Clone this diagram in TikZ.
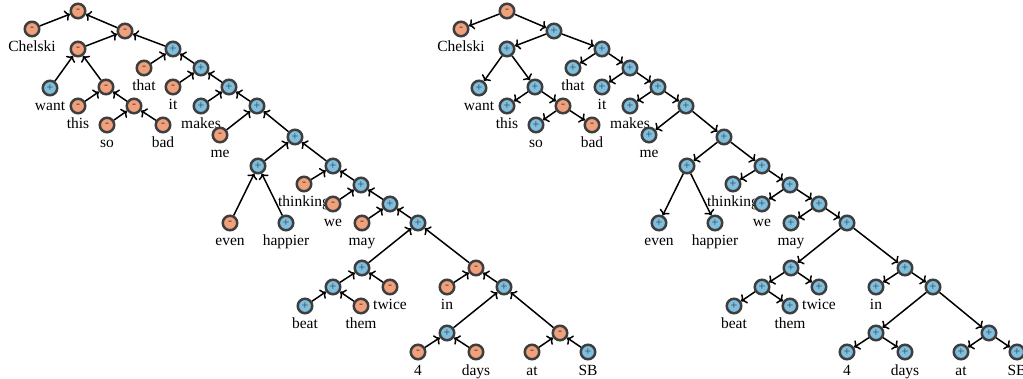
\documentclass[tikz,border=0pt]{standalone}
\usepackage{fontspec}
\setmainfont{Liberation Serif}
\usetikzlibrary{arrows.meta}
\pgfdeclarelayer{background}
\pgfsetlayers{background,main}
\definecolor{orangec}{RGB}{240,160,122}
\definecolor{bluec}{RGB}{126,190,222}
\definecolor{rimc}{RGB}{62,62,62}
\begin{document}
\begin{tikzpicture}[x=1pt,y=-1pt,
  nd/.style={circle, draw=rimc, line width=2.5pt, minimum size=14.5pt, inner sep=0pt, text=rimc, font=\fontsize{12}{12}\selectfont},
  plusnode/.style={nd, fill=bluec},
  minusnode/.style={nd, fill=orangec},
  lbl/.style={anchor=base, inner sep=0pt, font=\fontsize{15.5}{18}\selectfont},
  edgeL/.style={line width=1.5pt, -{To[length=5pt,width=11pt]}},
  edgeR/.style={line width=1.5pt, -{To[length=5pt,width=11pt]}}]
\useasboundingbox (0,0) rectangle (1023,379);

% ---------------- left tree ----------------
\node[minusnode] (Lroot) at (78,11) {-};
\node[minusnode] (Lchelski) at (32,29) {-};
\node[minusnode] (L1) at (125,31) {-};
\node[minusnode] (L2) at (78,49) {-};
\node[plusnode] (L5) at (173,49) {+};
\node[plusnode] (Lwant) at (50,88) {+};
\node[minusnode] (L3) at (106,87) {-};
\node[minusnode] (Lthat) at (144,68) {-};
\node[plusnode] (L6) at (201,68) {+};
\node[minusnode] (Lthis) at (78,106) {-};
\node[minusnode] (L4) at (134,106) {-};
\node[minusnode] (Lit) at (173,87) {-};
\node[plusnode] (L7) at (229,87) {+};
\node[minusnode] (Lso) at (107,125) {-};
\node[minusnode] (Lbad) at (163,125) {-};
\node[plusnode] (Lmakes) at (201,106) {+};
\node[plusnode] (L8) at (257,106) {+};
\node[minusnode] (Lme) at (220,135) {-};
\node[plusnode] (L9) at (295,137) {+};
\node[plusnode] (L10) at (258,166) {+};
\node[plusnode] (L11) at (333,166) {+};
\node[minusnode] (Leven) at (230,223) {-};
\node[plusnode] (Lhappier) at (286,223) {+};
\node[minusnode] (Lthinking) at (304,184) {-};
\node[plusnode] (L12) at (361,185) {+};
\node[minusnode] (Lwe) at (333,204) {-};
\node[plusnode] (L13) at (390,204) {+};
\node[minusnode] (Lmay) at (362,223) {-};
\node[plusnode] (L14) at (418,223) {+};
\node[plusnode] (L15) at (362,268) {+};
\node[minusnode] (L17) at (476,268) {-};
\node[plusnode] (L16) at (333,287) {+};
\node[minusnode] (Ltwice) at (390,287) {-};
\node[minusnode] (Lin) at (447,287) {-};
\node[plusnode] (L18) at (504,287) {+};
\node[plusnode] (Lbeat) at (305,306) {+};
\node[minusnode] (Lthem) at (361,306) {-};
\node[plusnode] (L19) at (447,333) {+};
\node[minusnode] (L20) at (560,333) {-};
\node[minusnode] (Lfour) at (418,352) {-};
\node[minusnode] (Ldays) at (476,352) {-};
\node[minusnode] (Lat) at (532,352) {-};
\node[plusnode] (Lsb) at (588,352) {+};

% ---------------- right tree ----------------
\node[minusnode] (Rroot) at (507,11) {-};
\node[minusnode] (Rchelski) at (461,29) {-};
\node[plusnode] (R1) at (554,31) {+};
\node[plusnode] (R2) at (507,49) {+};
\node[plusnode] (R5) at (602,49) {+};
\node[plusnode] (Rwant) at (479,88) {+};
\node[plusnode] (R3) at (535,87) {+};
\node[plusnode] (Rthat) at (573,68) {+};
\node[plusnode] (R6) at (630,68) {+};
\node[plusnode] (Rthis) at (507,106) {+};
\node[minusnode] (R4) at (563,106) {-};
\node[plusnode] (Rit) at (602,87) {+};
\node[plusnode] (R7) at (658,87) {+};
\node[plusnode] (Rso) at (536,125) {+};
\node[minusnode] (Rbad) at (592,125) {-};
\node[plusnode] (Rmakes) at (630,106) {+};
\node[plusnode] (R8) at (686,106) {+};
\node[plusnode] (Rme) at (649,135) {+};
\node[plusnode] (R9) at (724,137) {+};
\node[plusnode] (R10) at (687,166) {+};
\node[plusnode] (R11) at (762,166) {+};
\node[plusnode] (Reven) at (659,223) {+};
\node[plusnode] (Rhappier) at (715,223) {+};
\node[plusnode] (Rthinking) at (733,184) {+};
\node[plusnode] (R12) at (790,185) {+};
\node[plusnode] (Rwe) at (762,204) {+};
\node[plusnode] (R13) at (819,204) {+};
\node[plusnode] (Rmay) at (791,223) {+};
\node[plusnode] (R14) at (847,223) {+};
\node[plusnode] (R15) at (791,268) {+};
\node[plusnode] (R17) at (905,268) {+};
\node[plusnode] (R16) at (762,287) {+};
\node[plusnode] (Rtwice) at (819,287) {+};
\node[plusnode] (Rin) at (876,287) {+};
\node[plusnode] (R18) at (933,287) {+};
\node[plusnode] (Rbeat) at (734,306) {+};
\node[plusnode] (Rthem) at (790,306) {+};
\node[plusnode] (R19) at (876,333) {+};
\node[plusnode] (R20) at (989,333) {+};
\node[plusnode] (Rfour) at (847,352) {+};
\node[plusnode] (Rdays) at (905,352) {+};
\node[plusnode] (Rat) at (961,352) {+};
\node[plusnode] (Rsb) at (1017,352) {+};

% ---------------- edges ----------------
\foreach \c/\p in {chelski/root,1/root,2/1,5/1,want/2,3/2,this/3,4/3,so/4,bad/4,
  that/5,6/5,it/6,7/6,makes/7,8/7,me/8,9/8,10/9,11/9,even/10,happier/10,
  thinking/11,12/11,we/12,13/12,may/13,14/13,15/14,17/14,16/15,twice/15,
  beat/16,them/16,in/17,18/17,19/18,20/18,four/19,days/19,at/20,sb/20}{
  \draw[edgeL] (L\c) -- (L\p);
  \draw[edgeR] (R\p) -- (R\c);
}

% ---------------- labels ----------------
\begin{pgfonlayer}{background}
\foreach \t in {L,R}{
  \node[lbl] at ([yshift=-23pt]\t chelski.center) {Chelski};
  \node[lbl] at ([yshift=-23pt]\t want.center) {want};
  \node[lbl] at ([yshift=-23pt]\t this.center) {this};
  \node[lbl] at ([yshift=-23pt]\t so.center) {so};
  \node[lbl] at ([yshift=-23pt]\t bad.center) {bad};
  \node[lbl] at ([yshift=-23pt]\t that.center) {that};
  \node[lbl] at ([yshift=-23pt]\t it.center) {it};
  \node[lbl] at ([yshift=-23pt]\t makes.center) {makes};
  \node[lbl] at ([yshift=-23pt]\t me.center) {me};
  \node[lbl] at ([yshift=-23pt]\t even.center) {even};
  \node[lbl] at ([yshift=-23pt]\t happier.center) {happier};
  \node[lbl] at ([yshift=-23pt]\t thinking.center) {thinking};
  \node[lbl] at ([yshift=-23pt]\t we.center) {we};
  \node[lbl] at ([yshift=-23pt]\t may.center) {may};
  \node[lbl] at ([yshift=-23pt]\t beat.center) {beat};
  \node[lbl] at ([yshift=-23pt]\t them.center) {them};
  \node[lbl] at ([yshift=-23pt]\t twice.center) {twice};
  \node[lbl] at ([yshift=-23pt]\t in.center) {in};
  \node[lbl] at ([yshift=-23pt]\t four.center) {4};
  \node[lbl] at ([yshift=-23pt]\t days.center) {days};
  \node[lbl] at ([yshift=-23pt]\t at.center) {at};
  \node[lbl] at ([yshift=-23pt]\t sb.center) {SB};
}
\end{pgfonlayer}
\end{tikzpicture}
\end{document}
